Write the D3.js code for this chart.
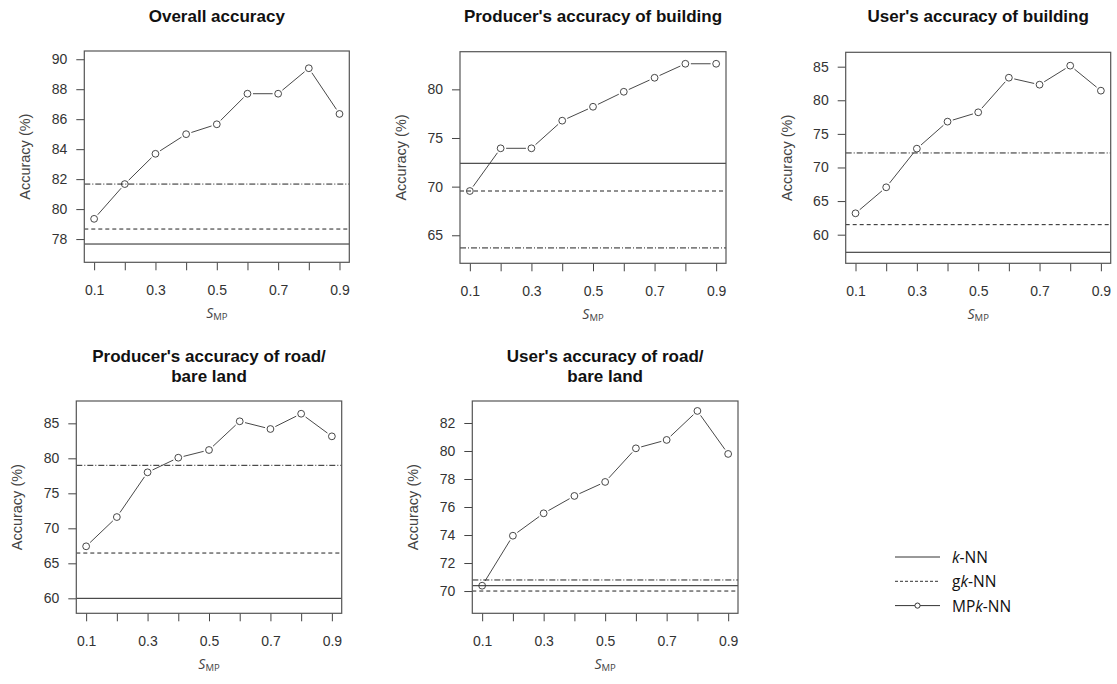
<!DOCTYPE html>
<html>
<head>
<meta charset="utf-8">
<script src="https://cdn.jsdelivr.net/npm/d3@7"></script>
<style>
  body { margin: 0; background: #fff; }
  svg { display: block; }
  .tick text { font-family: "Liberation Sans", Arial, sans-serif; }
</style>
</head>
<body>
<div id="chart"></div>
<script>
// S_MP values on the x axis
var sMP = [0.1, 0.2, 0.3, 0.4, 0.5, 0.6, 0.7, 0.8, 0.9]
var sLabels = [0.1, 0.3, 0.5, 0.7, 0.9]

var titles = [
    ['Overall accuracy'],
    ["Producer's accuracy of building"],
    ["User's accuracy of building"],
    ["Producer's accuracy of road/", 'bare land'],
    ["User's accuracy of road/", 'bare land']
]

// MPk-NN curves, one per panel
var overallMP = [79.35, 81.67, 83.69, 85.0, 85.66, 87.7, 87.7, 89.4, 86.35]
var paBuildingMP = [69.55, 73.94, 73.94, 76.78, 78.21, 79.75, 81.19, 82.63, 82.63]
var uaBuildingMP = [63.18, 67.05, 72.8, 76.82, 78.21, 83.36, 82.32, 85.15, 81.43]
var paRoadMP = [67.43, 71.61, 78.0, 80.09, 81.19, 85.29, 84.19, 86.37, 83.14]
var uaRoadMP = [70.38, 73.95, 75.55, 76.79, 77.79, 80.19, 80.79, 82.86, 79.79]

// flat reference lines per panel
var knn = [77.67, 72.4, 57.38, 60.0, 70.38]
var gknn = [78.67, 69.55, 61.49, 66.47, 70.0]
var dashDot = [81.67, 63.7, 72.16, 79.0, 70.79]

var yTicks = [
    [78, 80, 82, 84, 86, 88, 90],
    [65, 70, 75, 80],
    [60, 65, 70, 75, 80, 85],
    [60, 65, 70, 75, 80, 85],
    [70, 72, 74, 76, 78, 80, 82]
]
var yDomains = [[76.45, 90.55], [62.12, 83.87], [55.74, 87.14], [57.86, 88.19], [68.41, 83.57]]

var mpSeries = [overallMP, paBuildingMP, uaBuildingMP, paRoadMP, uaRoadMP]

// plot boxes: left, right, top, bottom
var boxes = [
    [84.3, 349.3, 51, 262.3],
    [460, 726, 51.7, 263.3],
    [845.7, 1110.7, 52.3, 263.3],
    [76.3, 341.7, 401, 613.3],
    [472.3, 738, 401, 613.3]
]

var ink = '#333'
    , font = '"Liberation Sans", Arial, sans-serif'

var svg = d3.select('#chart').append('svg')
    .attr('width', 1117)
    .attr('height', 684)

boxes.forEach(function (b, i) {
    var x = d3.scaleLinear().domain([0.068, 0.932]).range([b[0], b[1]])
        , y = d3.scaleLinear().domain(yDomains[i]).range([b[3], b[2]])
        , g = svg.append('g')

    // title
    var tl = titles[i]
    var t0 = tl.length == 1 ? 22 : 361.5
    tl.forEach(function (s, j) {
        g.append('text')
            .attr('x', (b[0] + b[1]) / 2)
            .attr('y', t0 + j * 20)
            .attr('text-anchor', 'middle')
            .attr('font-family', font)
            .attr('font-weight', 'bold')
            .attr('font-size', 17)
            .attr('fill', '#111')
            .text(s)
    })

    // y axis
    var ya = g.append('g')
        .attr('transform', 'translate(' + b[0] + ',0)')
        .call(d3.axisLeft(y).tickValues(yTicks[i]).tickSize(8).tickPadding(9).tickFormat(d3.format('d')))
    ya.select('.domain').remove()
    ya.selectAll('line').attr('stroke', '#444')
    ya.selectAll('text').attr('font-size', 14).attr('fill', ink)

    // x axis
    var xa = g.append('g')
        .attr('transform', 'translate(0,' + b[3] + ')')
        .call(d3.axisBottom(x).tickValues(sMP).tickSize(8).tickPadding(15)
            .tickFormat(function (d) { return sLabels.indexOf(d) >= 0 ? d3.format('.1f')(d) : '' }))
    xa.select('.domain').remove()
    xa.selectAll('line').attr('stroke', '#444')
    xa.selectAll('text').attr('font-size', 14).attr('fill', ink)

    // axis titles
    g.append('text')
        .attr('transform', 'translate(' + (b[0] - 54) + ',' + (b[2] + b[3]) / 2 + ') rotate(-90)')
        .attr('text-anchor', 'middle')
        .attr('font-family', font)
        .attr('font-size', 14.5)
        .attr('fill', '#444')
        .text('Accuracy (%)')

    var xl = g.append('text')
        .attr('x', (b[0] + b[1]) / 2)
        .attr('y', b[3] + 56)
        .attr('text-anchor', 'middle')
        .attr('font-family', '"Open Sans", sans-serif')
        .attr('fill', '#444')
    xl.append('tspan').attr('font-style', 'italic').attr('font-size', 14).text('S')
    xl.append('tspan').attr('font-size', 9.5).attr('dy', 2).text('MP')

    // clip reference lines to the box
    var cid = 'clip' + i
    svg.append('clipPath').attr('id', cid).append('rect')
        .attr('x', b[0]).attr('y', b[2]).attr('width', b[1] - b[0]).attr('height', b[3] - b[2])

    var refs = [[knn[i], null], [gknn[i], '4,3'], [dashDot[i], '6,2,1,2']]
    refs.forEach(function (r) {
        g.append('line')
            .attr('clip-path', 'url(#' + cid + ')')
            .attr('x1', b[0]).attr('x2', b[1])
            .attr('y1', y(r[0])).attr('y2', y(r[0]))
            .attr('stroke', '#222')
            .attr('stroke-width', 1)
            .attr('stroke-dasharray', r[1])
    })

    // MPk-NN: segments with gaps around the points, like R type="b"
    var pts = mpSeries[i].map(function (v, k) { return [x(sMP[k]), y(v)] })
    var gap = 5.5
    for (var k = 0; k < pts.length - 1; k++) {
        var p = pts[k], q = pts[k + 1]
            , dx = q[0] - p[0], dy = q[1] - p[1]
            , len = Math.sqrt(dx * dx + dy * dy)
        if (len <= 2 * gap) continue
        var ux = dx / len, uy = dy / len
        g.append('line')
            .attr('x1', p[0] + ux * gap).attr('y1', p[1] + uy * gap)
            .attr('x2', q[0] - ux * gap).attr('y2', q[1] - uy * gap)
            .attr('stroke', '#333')
            .attr('stroke-width', 0.9)
    }
    g.selectAll('circle.pt')
        .data(pts)
        .enter().append('circle')
        .attr('cx', function (d) { return d[0] })
        .attr('cy', function (d) { return d[1] })
        .attr('r', 3.4)
        .attr('fill', 'none')
        .attr('stroke', '#333')
        .attr('stroke-width', 0.9)

    // box
    g.append('rect')
        .attr('x', b[0]).attr('y', b[2])
        .attr('width', b[1] - b[0]).attr('height', b[3] - b[2])
        .attr('fill', 'none')
        .attr('stroke', '#555')
        .attr('stroke-width', 1.2)
})

// legend
var legendItems = [
    { pre: '', it: 'k', post: '-NN', dash: null, dot: false },
    { pre: 'g', it: 'k', post: '-NN', dash: '3,2', dot: false },
    { pre: 'MP', it: 'k', post: '-NN', dash: null, dot: true }
]
var lg = svg.append('g')
legendItems.forEach(function (d, i) {
    var yy = 557 + i * 24.3
    lg.append('line')
        .attr('x1', 895).attr('x2', 940)
        .attr('y1', yy).attr('y2', yy)
        .attr('stroke', '#333')
        .attr('stroke-width', 1)
        .attr('stroke-dasharray', d.dash)
    if (d.dot) {
        lg.append('circle').attr('cx', 917.5).attr('cy', yy).attr('r', 2.6)
            .attr('fill', '#fff').attr('stroke', '#333')
    }
    var t = lg.append('text')
        .attr('x', 952)
        .attr('y', yy + 6)
        .attr('font-family', '"Open Sans", sans-serif')
        .attr('font-size', 15.5)
        .attr('fill', '#111')
    if (d.pre) t.append('tspan').text(d.pre)
    t.append('tspan').attr('font-style', 'italic').text(d.it)
    t.append('tspan').text(d.post)
})
</script>
</body>
</html>
